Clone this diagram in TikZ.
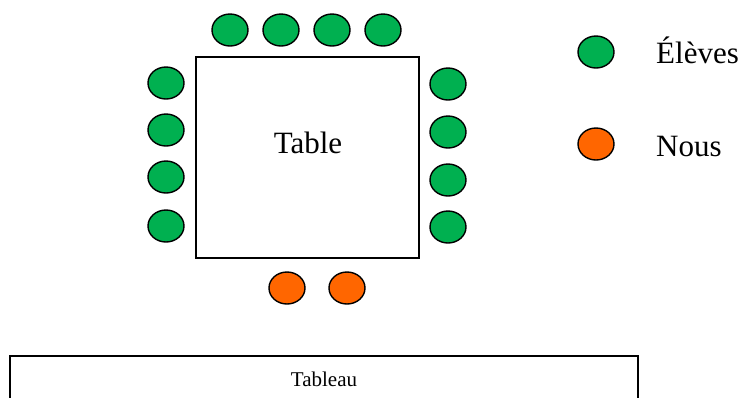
\documentclass[tikz,border=0pt]{standalone}
\usepackage{fontspec}
\setmainfont{Liberation Serif}
\usetikzlibrary{shapes.geometric}
\definecolor{eleve}{HTML}{00B050}
\definecolor{nous}{HTML}{FF6600}
\tikzset{
  seat/.style={ellipse,draw=black,line width=1.4pt,minimum width=36pt,minimum height=32pt,inner sep=0pt},
  eleveseat/.style={seat,fill=eleve},
  nousseat/.style={seat,fill=nous},
  bigtext/.style={font=\fontsize{31}{34}\selectfont,inner sep=0pt},
}
\begin{document}
\begin{tikzpicture}[x=1pt,y=-1pt]
\useasboundingbox (0,0) rectangle (744,397);
% table
\node[draw=black,line width=1.8pt,minimum width=223pt,minimum height=201pt,inner sep=0pt] (table) at (307.5,157.5) {};
\node[bigtext,anchor=base] (tabletext) at (308,153) {Table};
% top seats
\node[eleveseat] (t1) at (230,30) {};
\node[eleveseat] (t2) at (281,30) {};
\node[eleveseat] (t3) at (332,30) {};
\node[eleveseat] (t4) at (383,30) {};
% left seats
\node[eleveseat] (l1) at (166,83) {};
\node[eleveseat] (l2) at (166,130) {};
\node[eleveseat] (l3) at (166,177) {};
\node[eleveseat] (l4) at (166,226) {};
% right seats
\node[eleveseat] (r1) at (448,84) {};
\node[eleveseat] (r2) at (448,132) {};
\node[eleveseat] (r3) at (448,180) {};
\node[eleveseat] (r4) at (448,227) {};
% bottom seats
\node[nousseat] (b1) at (287,288) {};
\node[nousseat] (b2) at (347,288) {};
% legend
\node[eleveseat] (leg1) at (596,52) {};
\node[bigtext,anchor=base west] (leg1t) at (656,63) {Élèves};
\node[nousseat] (leg2) at (596,144) {};
\node[bigtext,anchor=base west] (leg2t) at (656,156) {Nous};
% tableau (board)
\coordinate (bl) at (10,398);
\coordinate (tl) at (10,356);
\coordinate (tr) at (638,356);
\coordinate (br) at (638,398);
\draw[line width=1.8pt] (bl) -- (tl) -- (tr) -- (br);
\node[font=\fontsize{21}{24}\selectfont,inner sep=0pt,anchor=base] (tableau) at (324,386) {Tableau};
\end{tikzpicture}
\end{document}
